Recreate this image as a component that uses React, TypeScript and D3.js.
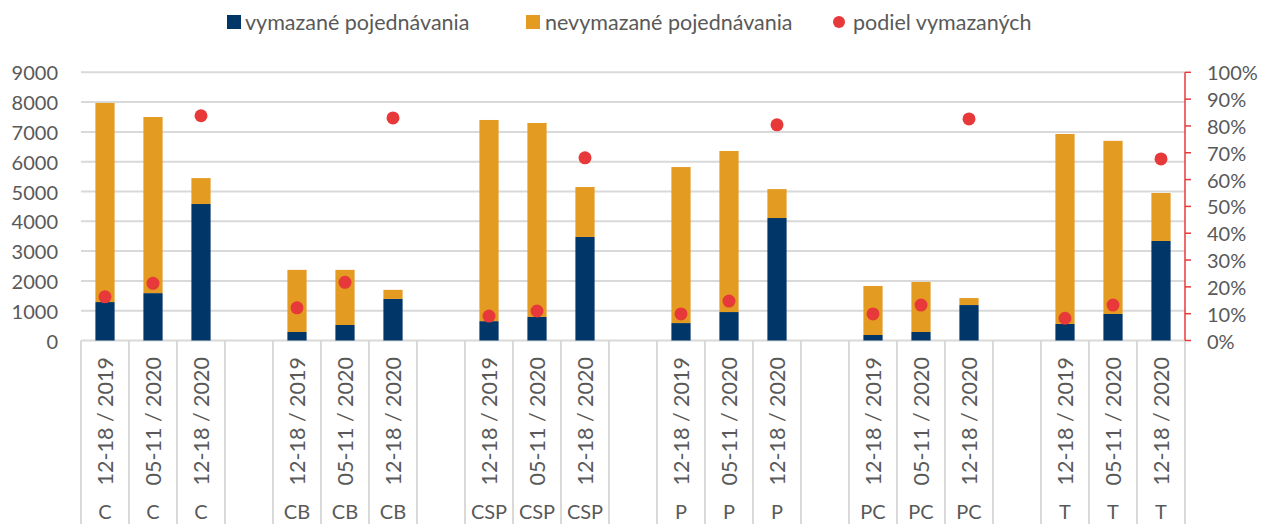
import React, { useEffect, useRef } from "react";
import * as d3 from "d3";

const groups = ["C", "CB", "CSP", "P", "PC", "T"];
const periods = ["12-18 / 2019", "05-11 / 2020", "12-18 / 2020"];
const deleted = [1290, 1590, 4580, 285, 520, 1395, 650, 790, 3475, 585, 955, 4110, 185, 285, 1190, 555, 890, 3340];
const notDeleted = [6680, 5910, 870, 2085, 1850, 305, 6750, 6510, 1675, 5235, 5405, 970, 1645, 1680, 235, 6375, 5810, 1610];
const shareDeleted = [0.163, 0.213, 0.838, 0.122, 0.217, 0.83, 0.091, 0.11, 0.681, 0.099, 0.147, 0.804, 0.099, 0.132, 0.826, 0.083, 0.132, 0.677];
const leftTicks = [0, 1000, 2000, 3000, 4000, 5000, 6000, 7000, 8000, 9000];
const rightTicks = [0, 0.1, 0.2, 0.3, 0.4, 0.5, 0.6, 0.7, 0.8, 0.9, 1];
const legendLabels = ["vymazané pojednávania", "nevymazané pojednávania", "podiel vymazaných"];

const NAVY = "#003668";
const ORANGE = "#E49B22";
const RED = "#E8393A";
const GRID = "#D9D9D9";
const TEXT = "#595959";
const FONT = "Lato, 'Open Sans', sans-serif";

function App() {
    const ref = useRef(null);

    useEffect(() => {
        const W = 1263, H = 524;
        const left = 81, right = 1185, top = 72.3, bottom = 340.5;
        d3.select(ref.current).selectAll("*").remove();
        const svg = d3.select(ref.current)
            .append("svg")
            .attr("width", W)
            .attr("height", H)
            .style("position", "absolute")
            .style("left", 0)
            .style("top", 0)
            .style("font-family", FONT);

        // slot ids, with one blank slot between groups
        const slots = [];
        const rows = [];
        groups.forEach((g, gi) => {
            periods.forEach((p, pi) => {
                const idx = gi * 3 + pi;
                const id = g + "|" + p;
                slots.push(id);
                rows.push({ id, group: g, period: p, del: deleted[idx], nd: notDeleted[idx], share: shareDeleted[idx] });
            });
            if (gi < groups.length - 1) slots.push("blank" + gi);
        });

        const x = d3.scaleBand().domain(slots).range([left, right]).padding(0);
        const y = d3.scaleLinear().domain([0, 9000]).range([bottom, top]);
        const y2 = d3.scaleLinear().domain([0, 1]).range([bottom, top]);
        const bw = x.bandwidth() * 0.4;

        // gridlines
        svg.append("g").selectAll("line").data(leftTicks).enter().append("line")
            .attr("x1", left).attr("x2", right)
            .attr("y1", d => y(d)).attr("y2", d => y(d))
            .attr("stroke", GRID).attr("stroke-width", 2);

        // left tick labels
        svg.append("g").selectAll("text").data(leftTicks).enter().append("text")
            .attr("x", 58).attr("y", d => y(d))
            .attr("text-anchor", "end").attr("dominant-baseline", "central")
            .attr("fill", TEXT).style("font-size", "20px")
            .text(d => d);

        // category separators
        const bounds = slots.map(s => x(s)).concat([right]);
        svg.append("g").selectAll("line").data(bounds).enter().append("line")
            .attr("x1", d => d).attr("x2", d => d)
            .attr("y1", bottom).attr("y2", H)
            .attr("stroke", GRID).attr("stroke-width", 2);

        // stacked bars
        const bars = svg.append("g").selectAll("g").data(rows).enter().append("g");
        bars.append("rect")
            .attr("x", d => x(d.id) + (x.bandwidth() - bw) / 2)
            .attr("width", bw)
            .attr("y", d => y(d.del))
            .attr("height", d => y(0) - y(d.del))
            .attr("fill", NAVY);
        bars.append("rect")
            .attr("x", d => x(d.id) + (x.bandwidth() - bw) / 2)
            .attr("width", bw)
            .attr("y", d => y(d.del + d.nd))
            .attr("height", d => y(d.del) - y(d.del + d.nd))
            .attr("fill", ORANGE);

        // share dots
        svg.append("g").selectAll("circle").data(rows).enter().append("circle")
            .attr("cx", d => x(d.id) + x.bandwidth() / 2)
            .attr("cy", d => y2(d.share))
            .attr("r", 6.5)
            .attr("fill", RED);

        // right axis
        const ra = svg.append("g");
        ra.append("line").attr("x1", right).attr("x2", right)
            .attr("y1", y2(0)).attr("y2", y2(1))
            .attr("stroke", RED).attr("stroke-width", 1.5);
        ra.selectAll(".tk").data(rightTicks).enter().append("line")
            .attr("x1", right).attr("x2", right + 6)
            .attr("y1", d => y2(d)).attr("y2", d => y2(d))
            .attr("stroke", RED).attr("stroke-width", 1.5);
        ra.selectAll("text").data(rightTicks).enter().append("text")
            .attr("x", 1207).attr("y", d => y2(d))
            .attr("dominant-baseline", "central")
            .attr("fill", TEXT).style("font-size", "20px")
            .text(d => Math.round(d * 100) + "%");

        // x labels
        const xl = svg.append("g");
        xl.selectAll(".per").data(rows).enter().append("text")
            .attr("transform", d => "translate(" + (x(d.id) + x.bandwidth() / 2) + ",357) rotate(-90)")
            .attr("text-anchor", "end").attr("dominant-baseline", "central")
            .attr("fill", TEXT).style("font-size", "21.5px")
            .text(d => d.period);
        xl.selectAll(".grp").data(rows).enter().append("text")
            .attr("x", d => x(d.id) + x.bandwidth() / 2).attr("y", 511)
            .attr("text-anchor", "middle").attr("dominant-baseline", "central")
            .attr("fill", TEXT).style("font-size", "20px")
            .text(d => d.group);

        // legend
        const lg = svg.append("g");
        const ly = 22;
        const lfs = "21.5px";
        lg.append("rect").attr("x", 227).attr("y", ly - 7).attr("width", 14).attr("height", 14).attr("fill", NAVY);
        lg.append("text").attr("x", 245).attr("y", ly).attr("dominant-baseline", "central")
            .attr("fill", TEXT).style("font-size", lfs).text(legendLabels[0]);
        lg.append("rect").attr("x", 526).attr("y", ly - 7).attr("width", 14).attr("height", 14).attr("fill", ORANGE);
        lg.append("text").attr("x", 545).attr("y", ly).attr("dominant-baseline", "central")
            .attr("fill", TEXT).style("font-size", lfs).text(legendLabels[1]);
        lg.append("circle").attr("cx", 839).attr("cy", ly).attr("r", 6).attr("fill", RED);
        lg.append("text").attr("x", 853).attr("y", ly).attr("dominant-baseline", "central")
            .attr("fill", TEXT).style("font-size", lfs).text(legendLabels[2]);
    }, []);

    return <div ref={ref}></div>;
}

export default App;
